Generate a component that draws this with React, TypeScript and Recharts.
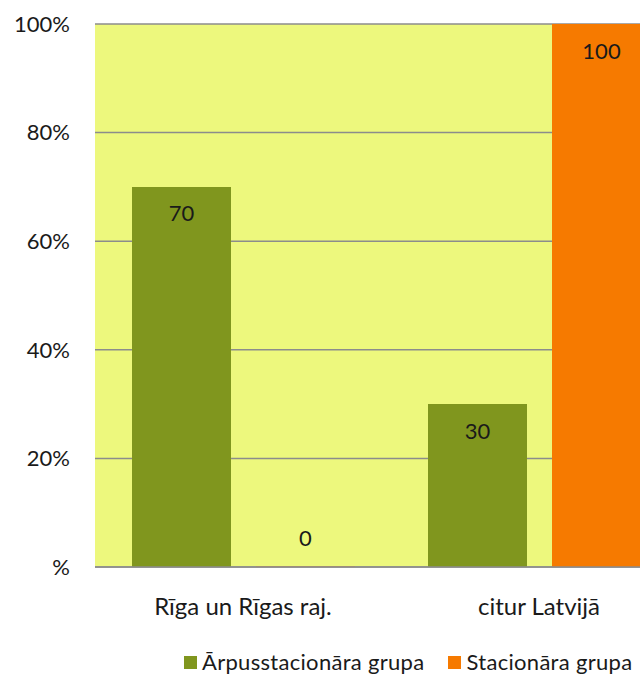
import { BarChart, Bar, XAxis, YAxis, CartesianGrid, LabelList } from "recharts";

const categories = ["Rīga un Rīgas raj.", "citur Latvijā"];
const arpusValues = [70, 30];
const stacValues = [0, 100];
const yTicks = [0, 20, 40, 60, 80, 100];

const seriesNames = ["Ārpusstacionāra grupa", "Stacionāra grupa"];
const seriesColors = ["#80961E", "#F67A00"];

const data = categories.map((name, i) => ({
  name,
  arpus: arpusValues[i],
  stac: stacValues[i],
}));

const FONT = "Lato, 'Open Sans', sans-serif";
const BASELINE = 567;

const renderLabel = (props: any) => {
  const { x, y, width, value } = props;
  const ty = value > 0 ? y + 29 : BASELINE - 27;
  return (
    <text
      x={x + width / 2}
      y={ty}
      textAnchor="middle"
      dominantBaseline="middle"
      fontSize={22}
      fontFamily={FONT}
      fill="#1a1a1a"
    >
      {value}
    </text>
  );
};

const App = () => {
  return (
    <div
      style={{
        position: "absolute",
        left: 0,
        top: 0,
        width: 640,
        height: 675,
        overflow: "hidden",
        background: "#ffffff",
        fontFamily: FONT,
      }}
    >
      <BarChart
        width={720}
        height={675}
        data={data}
        margin={{ top: 24, right: 33, left: 0, bottom: 58 }}
        barCategoryGap={37}
        barGap={25}
      >
        <CartesianGrid
          vertical={false}
          stroke="#8c8c8c"
          strokeWidth={1.5}
          fill="#EDF87D"
          fillOpacity={1}
        />
        <XAxis
          dataKey="name"
          height={50}
          axisLine={{ stroke: "#8c8c8c", strokeWidth: 1.5 }}
          tickLine={false}
          tickSize={0}
          tickMargin={31}
          tick={{ fontSize: 24, fontFamily: FONT, fill: "#1a1a1a" }}
        />
        <YAxis
          width={95}
          domain={[0, 100]}
          ticks={yTicks}
          axisLine={false}
          tickLine={false}
          tickSize={0}
          tickMargin={25}
          tickFormatter={(v: number) => (v === 0 ? "%" : `${v}%`)}
          tick={{ fontSize: 22, fontFamily: FONT, fill: "#1a1a1a" }}
        />
        <Bar
          dataKey="arpus"
          name={seriesNames[0]}
          fill={seriesColors[0]}
          isAnimationActive={false}
        >
          <LabelList dataKey="arpus" content={renderLabel} />
        </Bar>
        <Bar
          dataKey="stac"
          name={seriesNames[1]}
          fill={seriesColors[1]}
          minPointSize={0.5}
          isAnimationActive={false}
        >
          <LabelList dataKey="stac" content={renderLabel} />
        </Bar>
      </BarChart>
      {/* legend */}
      <div
        style={{
          position: "absolute",
          top: 651,
          left: 184,
          display: "flex",
          alignItems: "center",
          fontSize: 22,
          lineHeight: "22px",
          letterSpacing: 0.3,
          color: "#1a1a1a",
          whiteSpace: "nowrap",
        }}
      >
        {seriesNames.map((n, i) => (
          <div
            key={n}
            style={{ display: "flex", alignItems: "center", marginRight: i === 0 ? 24 : 0 }}
          >
            <span
              style={{
                display: "inline-block",
                width: 13,
                height: 13,
                background: seriesColors[i],
                marginRight: 5,
              }}
            />
            <span>{n}</span>
          </div>
        ))}
      </div>
    </div>
  );
};

export default App;
